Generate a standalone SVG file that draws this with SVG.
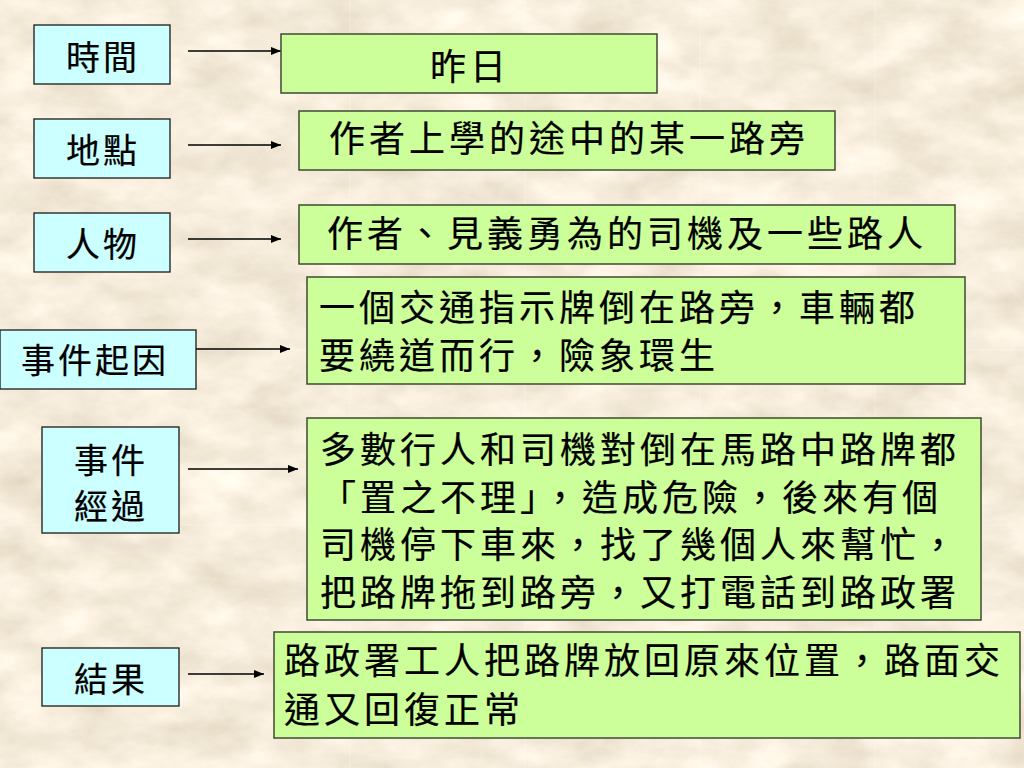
<svg xmlns="http://www.w3.org/2000/svg" width="1024" height="768" viewBox="0 0 1024 768">
  <defs>
    <filter id="paper" x="0" y="0" width="1024" height="768" filterUnits="userSpaceOnUse">
      <feTurbulence type="fractalNoise" baseFrequency="0.016 0.028" numOctaves="5" seed="7" result="n"/>
      <feColorMatrix in="n" type="matrix" values="0.36 0 0 0 0.74  0.38 0 0 0 0.65  0.42 0 0 0 0.50  0 0 0 0 1"/>
    </filter>
    <marker id="arr" viewBox="0 0 10 8" refX="10" refY="4" markerWidth="10" markerHeight="8" markerUnits="userSpaceOnUse" orient="auto">
      <path d="M0,0 L10,4 L0,8 Z" fill="#000"/>
    </marker>
    <style>
      .lab { fill: #CCFFFF; stroke: #1a1a1a; stroke-width: 1.3; }
      .val { fill: #CCFF99; stroke: #3f4a33; stroke-width: 1.5; }
      .lt { font-family: "Noto Sans CJK TC", "Noto Sans CJK SC", sans-serif; font-size: 34px; font-weight: 400; letter-spacing: 3px; fill: #000; stroke: #000; stroke-width: 0.2px; }
      .vt { font-family: "Noto Sans CJK TC", "Noto Sans CJK SC", sans-serif; font-size: 36px; font-weight: 400; letter-spacing: 4px; fill: #000; stroke: #000; stroke-width: 0.2px; }
      .conn line { stroke: #000; stroke-width: 1.6; marker-end: url(#arr); }
      .seam { stroke: #fff; stroke-width: 1; opacity: 0.3; }
    </style>
  </defs>

  <rect x="0" y="0" width="1024" height="768" fill="#E8D6B4"/>
  <rect x="0" y="0" width="1024" height="768" filter="url(#paper)"/>
  <g class="seam">
    <line x1="350" y1="0" x2="350" y2="768"/>
    <line x1="525" y1="0" x2="525" y2="768"/>
    <line x1="700" y1="0" x2="700" y2="768"/>
    <line x1="875" y1="0" x2="875" y2="768"/>
    <line x1="0" y1="350" x2="1024" y2="350"/>
    <line x1="0" y1="525" x2="1024" y2="525"/>
  </g>

  <g id="connectors" class="conn">
    <line x1="188" y1="51" x2="281" y2="51"/>
    <line x1="188" y1="145" x2="281" y2="145"/>
    <line x1="188" y1="239" x2="281" y2="239"/>
    <line x1="196" y1="349" x2="290" y2="349"/>
    <line x1="188" y1="469" x2="298" y2="469"/>
    <line x1="188" y1="674" x2="264" y2="674"/>
  </g>

  <g id="n-time">
    <rect class="lab" x="34" y="25" width="136" height="59"/>
    <text class="lt" x="66" y="70">時間</text>
  </g>
  <g id="n-time-v">
    <rect class="val" x="281" y="34" width="376" height="59"/>
    <text class="vt" x="430" y="80">昨日</text>
  </g>

  <g id="n-place">
    <rect class="lab" x="34" y="119" width="136" height="59"/>
    <text class="lt" x="66" y="163">地點</text>
  </g>
  <g id="n-place-v">
    <rect class="val" x="299" y="111" width="536" height="59"/>
    <text class="vt" x="329" y="152">作者上學的途中的某一路旁</text>
  </g>

  <g id="n-people">
    <rect class="lab" x="34" y="213" width="136" height="59"/>
    <text class="lt" x="66" y="257">人物</text>
  </g>
  <g id="n-people-v">
    <rect class="val" x="299" y="205" width="656" height="59"/>
    <text class="vt" x="327" y="247">作者、見義勇為的司機及一些路人</text>
  </g>

  <g id="n-cause">
    <rect class="lab" x="0" y="330" width="196" height="59"/>
    <text class="lt" x="21" y="373">事件起因</text>
  </g>
  <g id="n-cause-v">
    <rect class="val" x="307" y="277" width="658" height="107"/>
    <text class="vt" x="319" y="321">一個交通指示牌倒在路旁，車輛都</text>
    <text class="vt" x="319" y="369">要繞道而行，險象環生</text>
  </g>

  <g id="n-process">
    <rect class="lab" x="42" y="427" width="137" height="106"/>
    <text class="lt" x="74" y="473">事件</text>
    <text class="lt" x="74" y="519">經過</text>
  </g>
  <g id="n-process-v">
    <rect class="val" x="307" y="418" width="674" height="202"/>
    <text class="vt" x="320" y="463">多數行人和司機對倒在馬路中路牌都</text>
    <text class="vt" x="320" y="511">「置之不理」，造成危險，後來有個</text>
    <text class="vt" x="320" y="558">司機停下車來，找了幾個人來幫忙，</text>
    <text class="vt" x="320" y="606">把路牌拖到路旁，又打電話到路政署</text>
  </g>

  <g id="n-result">
    <rect class="lab" x="42" y="648" width="137" height="58"/>
    <text class="lt" x="74" y="692">結果</text>
  </g>
  <g id="n-result-v">
    <rect class="val" x="274" y="632" width="746" height="106"/>
    <text class="vt" x="284" y="674">路政署工人把路牌放回原來位置，路面交</text>
    <text class="vt" x="284" y="723">通又回復正常</text>
  </g>
</svg>
